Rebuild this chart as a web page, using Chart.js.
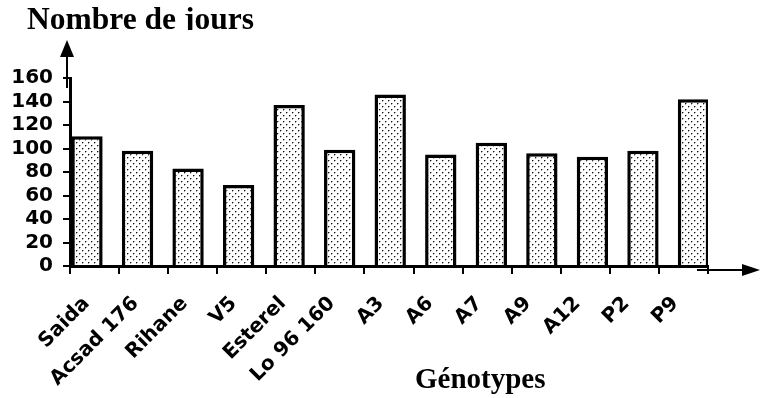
<!DOCTYPE html>
<html>
<head>
<meta charset="utf-8">
<script src="https://cdn.jsdelivr.net/npm/chart.js@4"></script>
<style>
  html, body { margin: 0; padding: 0; background: #fff; }
  #wrap { position: relative; width: 760px; height: 398px; overflow: hidden; }
  #chart { position: absolute; left: 0; top: 0; }
  .label { position: absolute; font-family: 'Liberation Serif', 'Times New Roman', serif; font-weight: bold; color: #000; white-space: nowrap; }
  #yTitle { left: 27px; top: 0; height: 30px; overflow: hidden; font-size: 31.5px; }
  #yTitle span { display: block; margin-top: 3px; line-height: 31.5px; }
  #xTitle { left: 415px; top: 364px; font-size: 29px; line-height: 29px; }
</style>
</head>
<body>
<div id="wrap">
  <canvas id="chart" width="760" height="398" style="width:760px;height:398px"></canvas>
  <div id="yTitle" class="label"><span>Nombre de jours</span></div>
  <div id="xTitle" class="label">Génotypes</div>
</div>
<script>
const genotypes = ['Saida', 'Acsad 176', 'Rihane', 'V5', 'Esterel', 'Lo 96 160', 'A3', 'A6', 'A7', 'A9', 'A12', 'P2', 'P9'];
const nombreJours = [110.5, 98, 83, 69, 137, 99, 146, 95, 105, 96, 93, 98, 142];
const yMin = 0;
const yMax = 160;
const yStep = 20;

const canvas = document.getElementById('chart');
const ctx = canvas.getContext('2d');

// stippled fill for the bars
function dotPattern() {
  const tile = document.createElement('canvas');
  tile.width = 6;
  tile.height = 6;
  const t = tile.getContext('2d');
  t.fillStyle = '#fff';
  t.fillRect(0, 0, 6, 6);
  t.fillStyle = '#111';
  t.fillRect(1, 1, 1, 1);
  t.fillRect(4, 4, 1, 1);
  t.fillStyle = 'rgba(0,0,0,0.35)';
  t.fillRect(2, 1, 1, 1);
  t.fillRect(5, 4, 1, 1);
  t.fillRect(1, 2, 1, 1);
  t.fillRect(4, 5, 1, 1);
  return ctx.createPattern(tile, 'repeat');
}

// arrowheads on both axes
const axisArrows = {
  id: 'axisArrows',
  afterDraw(chart) {
    const { left, top, right, bottom } = chart.chartArea;
    const c = chart.ctx;
    c.save();
    c.strokeStyle = '#000';
    c.fillStyle = '#000';
    c.lineWidth = 2;
    // vertical arrow
    c.beginPath();
    c.moveTo(left - 3, top + 10);
    c.lineTo(left - 3, top - 22);
    c.stroke();
    c.beginPath();
    c.moveTo(left - 3, top - 38);
    c.lineTo(left - 10, top - 21);
    c.lineTo(left + 4, top - 21);
    c.closePath();
    c.fill();
    // horizontal arrow
    c.beginPath();
    c.moveTo(right - 11, bottom + 4);
    c.lineTo(right + 36, bottom + 4);
    c.stroke();
    c.beginPath();
    c.moveTo(right + 52, bottom + 4);
    c.lineTo(right + 34, bottom - 2);
    c.lineTo(right + 34, bottom + 10);
    c.closePath();
    c.fill();
    c.restore();
  }
};

const tickFont = { family: "'DejaVu Sans', Verdana, sans-serif", size: 20, weight: 'bold' };

// bars sit on their own numeric axis (one unit per genotype), slightly wider spaced than the labelled ticks
const barPoints = nombreJours.map((v, i) => ({ x: i, y: v }));

new Chart(ctx, {
  type: 'bar',
  data: {
    labels: genotypes,
    datasets: [{
      label: 'Nombre de jours',
      data: barPoints,
      xAxisID: 'xb',
      yAxisID: 'y',
      backgroundColor: dotPattern(),
      borderColor: '#000',
      borderWidth: 3.5,
      borderSkipped: 'start',
      categoryPercentage: 1,
      barPercentage: 0.62
    }]
  },
  options: {
    responsive: false,
    animation: false,
    devicePixelRatio: 1,
    layout: { padding: { top: 78, right: 52, left: 0, bottom: 0 } },
    plugins: {
      legend: { display: false },
      tooltip: { enabled: false }
    },
    scales: {
      x: {
        type: 'category',
        offset: true,
        grid: {
          offset: true,
          drawOnChartArea: false,
          drawTicks: true,
          tickLength: 8,
          color: '#000',
          lineWidth: 2
        },
        border: { display: true, color: '#000', width: 3 },
        ticks: {
          color: '#000',
          font: tickFont,
          minRotation: 45,
          maxRotation: 45,
          autoSkip: false,
          padding: 18,
          labelOffset: -8
        },
        afterFit(scale) { scale.height = 132; }
      },
      xb: {
        type: 'linear',
        display: false,
        min: -0.336,
        max: 12.287,
        offset: false
      },
      y: {
        min: yMin,
        max: yMax,
        grid: {
          drawOnChartArea: false,
          drawTicks: true,
          tickLength: 7,
          color: '#000',
          lineWidth: 2
        },
        border: { display: true, color: '#000', width: 3 },
        ticks: {
          stepSize: yStep,
          autoSkip: false,
          color: '#000',
          font: tickFont,
          padding: 10
        },
        afterFit(scale) { scale.width = 70; }
      }
    }
  },
  plugins: [axisArrows]
});
</script>
</body>
</html>
